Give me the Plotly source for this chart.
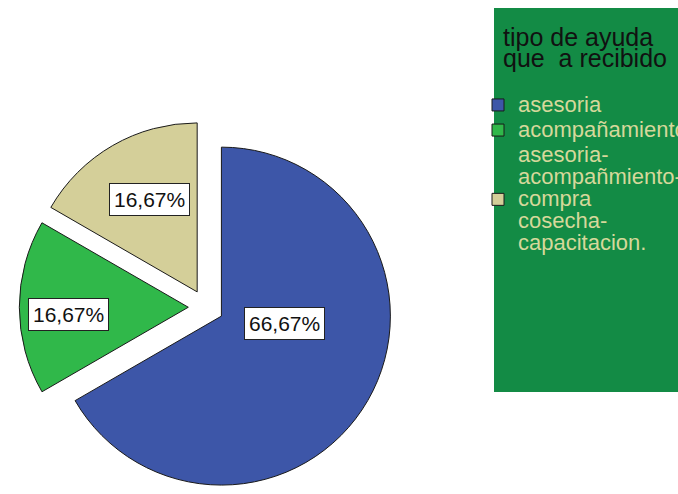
import plotly.graph_objects as go

# slices, in drawing order (clockwise from 12 o'clock)
categories = [
    "asesoria",
    "acompañamiento",
    "asesoria-<br>acompañmiento-<br>compra<br>cosecha-<br>capacitacion.",
]
percentages = [66.67, 16.67, 16.67]
slice_colors = ["#3d56a8", "#30b84a", "#d4cf99"]
legend_title = "tipo de ayuda<br>que\u00a0 a recibido"

W, H = 678, 494
FONT = "Liberation Sans, Arial, sans-serif"


def big(txt, size):
    # wrap each line so glyphs are larger than the (tight) line spacing
    return "<br>".join(f"<span style='font-size:{size}px'>{p}</span>"
                       for p in txt.split("<br>"))


fig = go.Figure()
fig.add_trace(go.Pie(
    labels=[big(c, 22) for c in categories],
    values=percentages,
    sort=False,
    direction="clockwise",
    rotation=0,
    pull=[0.105] * len(percentages),
    marker=dict(colors=slice_colors, line=dict(color="#1a1a1a", width=1)),
    textinfo="none",
    hoverinfo="label+percent",
    domain=dict(x=[0.0285, 0.5793], y=[0.0, 0.7561]),
))

# percentage boxes (SPSS style labels)
label_pos = [(0.4189, 0.3451), (0.1010, 0.3634), (0.2205, 0.5962)]
annotations = []
for (x, y), v in zip(label_pos, percentages):
    annotations.append(dict(
        x=x, y=y, xref="paper", yref="paper",
        xanchor="center", yanchor="middle",
        text=f"{v:.2f}%".replace(".", ","),
        showarrow=False,
        font=dict(family=FONT, size=21, color="#111111"),
        bgcolor="white", bordercolor="#222222", borderwidth=1, borderpad=4,
    ))

fig.update_layout(
    width=W, height=H,
    margin=dict(l=0, r=0, t=0, b=0, autoexpand=False),
    paper_bgcolor="white",
    plot_bgcolor="white",
    font=dict(family=FONT),
    annotations=annotations,
    shapes=[dict(
        type="rect", xref="paper", yref="paper",
        x0=494 / W, x1=1.05, y0=1 - 392 / H, y1=1 - 8 / H,
        fillcolor="#138b45", line=dict(width=0), layer="below",
    )],
    legend=dict(
        x=478 / W, y=1 - 25 / H, xanchor="left", yanchor="top",
        bgcolor="rgba(0,0,0,0)",
        font=dict(family=FONT, size=17, color="#d6d89b"),
        title=dict(text=big(legend_title, 25) + "<br>", side="top center",
                   font=dict(family=FONT, size=16, color="#111111")),
        tracegroupgap=0,
    ),
)

# no body margin, so the figure fills the 678x494 window exactly
fig.write_html(
    "out.html",
    config={"displayModeBar": False},
    post_script="document.body.style.margin='0';"
                "document.body.style.overflow='hidden';",
)
